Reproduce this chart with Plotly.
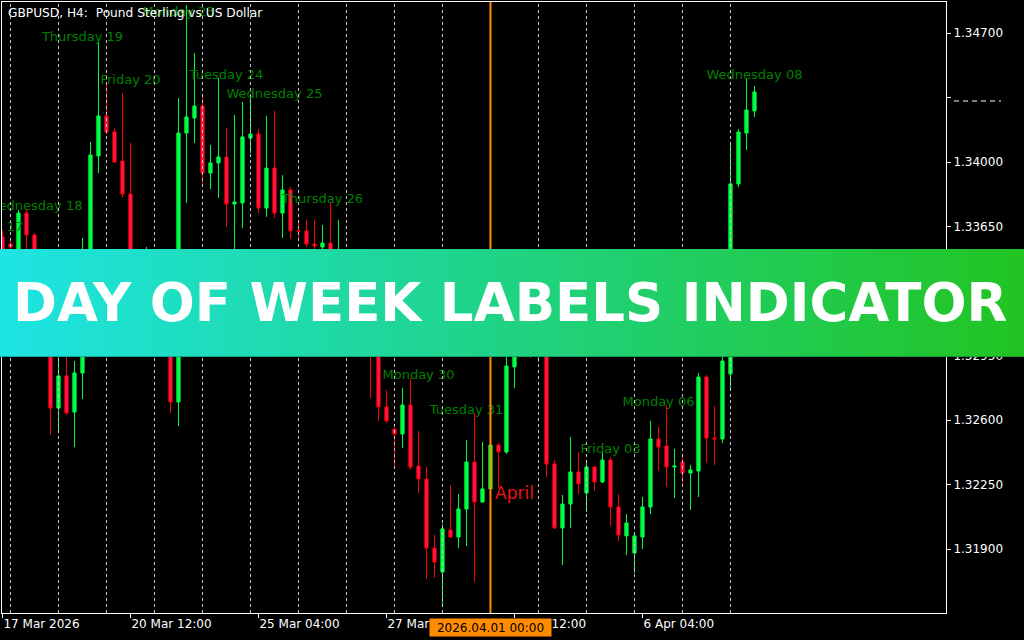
import plotly.graph_objects as go

# H4 bars, counted from Tue 17 Mar 2026 00:00 (6 bars per trading day)
bar_index = list(range(5, 100))
opens = [
    1.33593, 1.33555, 1.33251, 1.33723, 1.33604, 1.33305, 1.33061, 1.32665, 1.32839, 1.32643,
    1.32855, 1.33414, 1.34033, 1.34250, 1.34163, 1.34005, 1.33826, 1.33251, 1.33034, 1.33441,
    1.33197, 1.33007, 1.32698, 1.34157, 1.34239, 1.34304, 1.33940, 1.33995, 1.34027, 1.33772,
    1.33778, 1.34130, 1.34152, 1.33750, 1.33967, 1.33723, 1.33848, 1.33626, 1.33626, 1.33555,
    1.33539, 1.33560, 1.33251, 1.33441, 1.33305, 1.33197, 1.33333, 1.33007, 1.32671, 1.32551,
    1.32524, 1.32681, 1.32350, 1.32280, 1.31905, 1.31775, 1.32003, 1.31965, 1.32117, 1.32372,
    1.32155, 1.32226, 1.32464, 1.32426, 1.32888, 1.33197, 1.33088, 1.33007, 1.33251, 1.32361,
    1.32014, 1.32144, 1.32318, 1.32204, 1.32345, 1.32264, 1.32383, 1.32128, 1.31971, 1.31878,
    1.31965, 1.32128, 1.32497, 1.32459, 1.32345, 1.32372, 1.32312, 1.32323, 1.32833, 1.32502,
    1.32497, 1.32850, 1.33881, 1.34157, 1.34277,
]
highs = [
    1.33631, 1.33577, 1.33740, 1.33745, 1.33615, 1.33360, 1.33116, 1.32980, 1.33007, 1.32920,
    1.33588, 1.34109, 1.34662, 1.34429, 1.34185, 1.34374, 1.34103, 1.33305, 1.33539, 1.33495,
    1.33251, 1.33061, 1.34347, 1.34852, 1.34591, 1.34358, 1.34092, 1.34456, 1.34185, 1.34255,
    1.34326, 1.34353, 1.34179, 1.34250, 1.34277, 1.33929, 1.33864, 1.33674, 1.33685, 1.33685,
    1.33658, 1.33783, 1.33685, 1.33457, 1.33360, 1.33414, 1.33387, 1.33061, 1.32763, 1.32557,
    1.32774, 1.32828, 1.32540, 1.32345, 1.31976, 1.32036, 1.32247, 1.32198, 1.32491, 1.32638,
    1.32481, 1.32475, 1.32475, 1.32953, 1.33251, 1.33278, 1.33143, 1.33305, 1.33305, 1.32383,
    1.32193, 1.32508, 1.32426, 1.32383, 1.32350, 1.32426, 1.32399, 1.32198, 1.32090, 1.31987,
    1.32182, 1.32595, 1.32562, 1.32681, 1.32443, 1.32405, 1.32356, 1.32855, 1.32844, 1.32676,
    1.33007, 1.34109, 1.34179, 1.34456, 1.34412,
]
lows = [
    1.33333, 1.33457, 1.33197, 1.33495, 1.33251, 1.33034, 1.32519, 1.32529, 1.32627, 1.32453,
    1.32714, 1.33360, 1.33940, 1.34152, 1.33995, 1.33805, 1.33143, 1.32980, 1.33007, 1.33143,
    1.32969, 1.32638, 1.32567, 1.33778, 1.34103, 1.33864, 1.33853, 1.33805, 1.33647, 1.33457,
    1.33642, 1.34049, 1.33723, 1.33702, 1.33696, 1.33588, 1.33582, 1.33577, 1.33539, 1.33522,
    1.33512, 1.33251, 1.33197, 1.33251, 1.33143, 1.33088, 1.32719, 1.32595, 1.32584, 1.32340,
    1.32448, 1.32329, 1.32204, 1.31737, 1.31743, 1.31585, 1.31960, 1.31905, 1.31916, 1.31721,
    1.32150, 1.32220, 1.32231, 1.32416, 1.32774, 1.33007, 1.32936, 1.32915, 1.32291, 1.32009,
    1.31813, 1.32014, 1.32198, 1.32101, 1.32215, 1.32258, 1.32025, 1.31943, 1.31867, 1.31770,
    1.31900, 1.32090, 1.32323, 1.32236, 1.32177, 1.32247, 1.32112, 1.32182, 1.32367, 1.32356,
    1.32475, 1.32768, 1.33864, 1.34065, 1.34244,
]
closes = [
    1.33414, 1.33539, 1.33723, 1.33604, 1.33305, 1.33088, 1.32665, 1.32839, 1.32638, 1.32855,
    1.33414, 1.34038, 1.34250, 1.34163, 1.34000, 1.33826, 1.33251, 1.33034, 1.33441, 1.33197,
    1.33007, 1.32698, 1.34157, 1.34244, 1.34304, 1.33940, 1.33995, 1.34027, 1.33772, 1.33783,
    1.34136, 1.34152, 1.33750, 1.33967, 1.33723, 1.33848, 1.33626, 1.33626, 1.33555, 1.33544,
    1.33560, 1.33305, 1.33441, 1.33305, 1.33197, 1.33333, 1.33007, 1.32671, 1.32595, 1.32524,
    1.32681, 1.32345, 1.32280, 1.31905, 1.31829, 1.32009, 1.31965, 1.32117, 1.32372, 1.32155,
    1.32226, 1.32464, 1.32426, 1.32893, 1.33197, 1.33088, 1.33034, 1.33251, 1.32361, 1.32014,
    1.32144, 1.32318, 1.32253, 1.32345, 1.32264, 1.32383, 1.32128, 1.31976, 1.32041, 1.31971,
    1.32128, 1.32497, 1.32453, 1.32345, 1.32350, 1.32312, 1.32329, 1.32833, 1.32502, 1.32497,
    1.32920, 1.33881, 1.34163, 1.34282, 1.34380,
]

# day labels drawn by the indicator, with the first bar of each day
day_names = [
    "Tuesday 17", "Wednesday 18", "Thursday 19", "Friday 20", "Monday 23", "Tuesday 24",
    "Wednesday 25", "Thursday 26", "Friday 27", "Monday 30", "Tuesday 31", "Wednesday 01",
    "Thursday 02", "Friday 03", "Monday 06", "Tuesday 07", "Wednesday 08",
]
day_first_bar = [0, 6, 12, 18, 24, 30, 36, 42, 48, 54, 60, 66, 72, 78, 84, 90, 96]

month_name = "April"
month_first_bar = 66
month_stamp = "2026.04.01 00:00"

xtick_vals = [5, 21, 37, 53, 69, 85]
xtick_text = ["17 Mar 2026", "20 Mar 12:00", "25 Mar 04:00", "27 Mar 20:00", "1 Apr 12:00", "6 Apr 04:00"]
ytick_vals = [1.31900, 1.32250, 1.32600, 1.32950, 1.33300, 1.33650, 1.34000, 1.34350, 1.34700]

chart_title = "GBPUSD, H4:\u00a0 Pound Sterling vs US Dollar"
banner_text = "DAY OF WEEK LABELS INDICATOR"

# ---- layout geometry (pixels)
W, H = 1024, 640
ML, MR, MT, MB = 2, 78, 2, 27
plot_w = W - ML - MR
plot_h = H - MT - MB
x_range = [4.94, 4.94 + plot_w / 8.0]
y_range = [1.315527, 1.348682]
ppp = (y_range[1] - y_range[0]) / plot_h  # price per pixel


def px_to_paper_x(px):
    return (px - ML) / plot_w


def px_to_paper_y(py):
    return (H - MB - py) / plot_h


fig = go.Figure()

fig.add_trace(go.Candlestick(
    x=bar_index, open=opens, high=highs, low=lows, close=closes,
    increasing=dict(line=dict(color="#00ff40", width=1), fillcolor="#00ff40"),
    decreasing=dict(line=dict(color="#ff0000", width=1), fillcolor="#ff1a5a"),
    whiskerwidth=0, hoverinfo="skip",
))

# day labels: centred on noon of each day, just above the day's high
lab_x, lab_y = [], []
for k, first in enumerate(day_first_bar):
    last = day_first_bar[k + 1] if k + 1 < len(day_first_bar) else first + 6
    day_highs = [h for b, h in zip(bar_index, highs) if first <= b < last]
    top = max(day_highs)
    lab_x.append(first + 3)
    lab_y.append(min(top + 2 * ppp, y_range[1] - 11 * ppp))

fig.add_trace(go.Scatter(
    x=lab_x, y=lab_y, text=day_names, mode="text", textposition="middle center",
    textfont=dict(family="DejaVu Sans", size=13, color="#008000"),
    cliponaxis=True, hoverinfo="skip",
))

# day separators
for first in day_first_bar:
    if first == month_first_bar or first < x_range[0]:
        continue
    fig.add_shape(type="line", xref="x", yref="paper", x0=first, x1=first, y0=0, y1=1,
                  line=dict(color="#c8c8c8", width=1, dash="3px,3px"), layer="above")

# month separator
fig.add_shape(type="line", xref="x", yref="paper", x0=month_first_bar, x1=month_first_bar, y0=0, y1=1,
              line=dict(color="#ff8c00", width=2), layer="above")

m_idx = bar_index.index(month_first_bar)
fig.add_annotation(x=month_first_bar, y=lows[m_idx], xref="x", yref="y", text=month_name,
                   showarrow=False, xanchor="left", yanchor="middle", xshift=3, yshift=-3,
                   font=dict(family="DejaVu Sans", size=17, color="#ee1111"))

fig.add_annotation(x=month_first_bar, y=0, xref="x", yref="paper", text=month_stamp,
                   showarrow=False, xanchor="center", yanchor="top", yshift=-5,
                   width=119, height=15, borderpad=1, bgcolor="#ff8c00",
                   font=dict(family="DejaVu Sans", size=12, color="black"))

fig.add_annotation(x=px_to_paper_x(6), y=px_to_paper_y(4), xref="paper", yref="paper",
                   text=chart_title, showarrow=False, xanchor="left", yanchor="top",
                   font=dict(family="DejaVu Sans", size=12.2, color="white"))

# masked price label fragment at 1.34350
fig.add_shape(type="line", xref="paper", yref="paper",
              x0=px_to_paper_x(954), x1=px_to_paper_x(1001),
              y0=px_to_paper_y(101), y1=px_to_paper_y(101),
              line=dict(color="white", width=1, dash="5px,4px"), layer="above")

# banner with horizontal gradient
stops = [(0.0, (30, 228, 228)), (0.4, (31, 214, 150)), (1.0, (34, 196, 34))]


def grad(f):
    for (f0, c0), (f1, c1) in zip(stops[:-1], stops[1:]):
        if f <= f1:
            t = (f - f0) / (f1 - f0)
            return "rgb(%d,%d,%d)" % tuple(round(a + (b - a) * t) for a, b in zip(c0, c1))
    return "rgb(%d,%d,%d)" % stops[-1][1]


n_strips = 128
strip = W / n_strips
for k in range(n_strips):
    fig.add_shape(type="rect", xref="paper", yref="paper",
                  x0=px_to_paper_x(k * strip), x1=px_to_paper_x((k + 1) * strip + 1),
                  y0=px_to_paper_y(357), y1=px_to_paper_y(249),
                  fillcolor=grad((k + 0.5) / n_strips), line_width=0, layer="above")
fig.add_shape(type="line", xref="paper", yref="paper", x0=px_to_paper_x(0), x1=px_to_paper_x(W),
              y0=px_to_paper_y(356.5), y1=px_to_paper_y(356.5),
              line=dict(color="rgba(0,70,50,0.35)", width=1), layer="above")

fig.add_annotation(x=px_to_paper_x(510), y=px_to_paper_y(302), xref="paper", yref="paper",
                   text=banner_text, showarrow=False, xanchor="center", yanchor="middle",
                   font=dict(family="DejaVu Sans", size=53, color="white", weight="bold"))

fig.update_layout(
    width=W, height=H,
    margin=dict(l=ML, r=MR, t=MT, b=MB, pad=0),
    paper_bgcolor="black", plot_bgcolor="black",
    showlegend=False, boxgap=0.42,
    xaxis=dict(
        range=x_range, rangeslider=dict(visible=False), showgrid=False, zeroline=False,
        showline=True, mirror=True, linecolor="white", linewidth=1,
        tickmode="array", tickvals=xtick_vals, ticktext=xtick_text,
        ticks="outside", ticklen=4, tickcolor="white", ticklabelposition="outside right",
        tickfont=dict(family="DejaVu Sans", size=12, color="white"),
    ),
    yaxis=dict(
        range=y_range, side="right", showgrid=False, zeroline=False,
        showline=True, mirror=True, linecolor="white", linewidth=1,
        tickmode="array", tickvals=ytick_vals,
        ticktext=["%.5f" % v if abs(v - 1.3435) > 1e-9 else "" for v in ytick_vals],
        ticks="outside", ticklen=4, tickcolor="white",
        tickfont=dict(family="DejaVu Sans", size=12, color="white"),
    ),
)

# the page body has a default margin; remove it so the figure fills the window
fig.write_html(
    "out.html",
    config={"displayModeBar": False},
    post_script="document.body.style.margin='0';document.body.style.background='black';",
)
